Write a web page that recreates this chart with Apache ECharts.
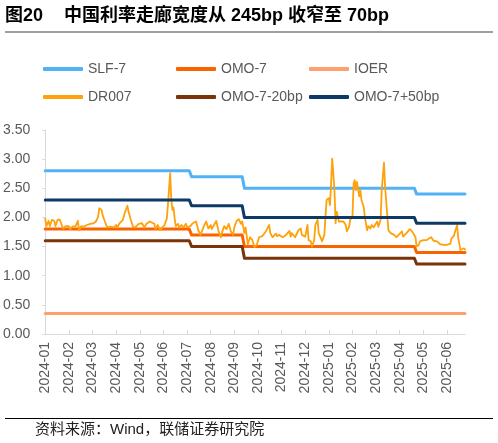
<!DOCTYPE html>
<html>
<head>
<meta charset="utf-8">
<script src="https://cdn.jsdelivr.net/npm/echarts@6/dist/echarts.min.js"></script>
<style>html,body{margin:0;padding:0;background:#fff}#c{width:498px;height:443px}</style>
</head>
<body>
<div id="c"></div>
<script>
// x = trading-day index; a month label every 21 trading days
const monthLabels = ['2024-01','2024-02','2024-03','2024-04','2024-05','2024-06','2024-07','2024-08','2024-09','2024-10','2024-11','2024-12','2025-01','2025-02','2025-03','2025-04','2025-05','2025-06'];
const labelEvery = 21;
const lastDay = 373;

// policy periods (trading-day index)
const periodStart = [0, 130, 177, 330];
const periodEnd   = [128, 175, 328, 373];
const slf7      = [2.80, 2.70, 2.50, 2.40];
const omo7      = [1.80, 1.70, 1.50, 1.40];
const omoMinus20 = [1.60, 1.50, 1.30, 1.20];
const omoPlus50  = [2.30, 2.20, 2.00, 1.90];
const ioer       = [0.35, 0.35, 0.35, 0.35];

// DR007
const drDay = [0,1,3,4,6,8,9,11,13,15,16,18,21,22,24,27,29,30,32,34,37,40,43,45,47,48,50,51,52,53,55,58,61,63,64,66,69,71,73,74,76,78,80,83,86,88,90,93,95,97,
  98,100,102,104,106,108,109,111,112,113,114,115,116,118,119,121,123,125,126,129,131,132,134,136,138,139,141,143,145,147,148,150,152,154,156,157,159,161,163,165,167,168,170,172,174,175,177,178,180,182,184,186,188,190,
  193,194,196,197,199,200,202,203,205,206,208,211,214,217,218,219,222,225,227,228,231,233,234,236,237,239,240,242,243,245,246,248,249,250,252,253,254,255,257,258,259,261,263,265,267,268,270,271,273,274,275,276,277,279,280,281,283,284,
  286,287,289,290,292,293,295,296,298,299,301,302,304,305,307,308,310,311,312,314,317,318,321,324,326,327,329,330,332,333,336,339,341,343,345,348,351,354,357,360,361,363,366,367,369,370,372,373];
const dr007 = [1.98,1.85,1.94,1.85,1.96,1.94,1.85,1.96,1.96,1.85,1.81,1.85,1.85,1.80,1.84,1.85,1.94,1.78,1.85,1.84,1.87,1.89,1.90,1.93,2.01,2.16,2.13,2.04,2.07,1.93,1.83,1.84,1.83,1.87,1.83,1.90,1.96,2.10,2.20,2.10,1.96,1.84,1.83,1.89,1.90,1.83,1.89,1.93,1.91,1.89,
  1.80,1.87,1.78,1.83,1.87,1.98,2.21,2.76,2.30,2.13,2.17,1.98,1.85,1.89,1.83,1.87,1.83,1.89,1.83,1.85,1.90,1.87,1.93,1.78,1.70,1.73,1.85,1.93,1.81,1.87,1.80,1.87,1.94,1.76,1.66,1.74,1.85,1.80,1.89,1.76,1.70,1.83,1.94,1.97,1.89,1.93,1.73,1.83,1.54,1.66,1.61,1.49,1.53,1.66,
  1.68,1.66,1.76,1.76,1.87,1.73,1.66,1.64,1.72,1.68,1.70,1.66,1.70,1.77,1.67,1.73,1.66,1.78,1.81,1.70,1.67,1.87,1.61,1.59,1.50,1.61,1.87,1.96,1.73,1.64,1.59,1.70,2.01,2.30,2.33,2.21,2.58,3.01,2.47,1.90,2.10,1.93,1.93,1.93,1.87,1.76,1.84,1.96,2.01,2.58,2.64,2.47,2.61,2.36,2.47,2.30,2.18,2.01,
  1.78,1.85,1.81,1.87,1.83,1.87,1.93,1.84,1.96,2.47,2.94,2.53,2.01,1.78,1.73,1.76,1.70,1.73,1.66,1.70,1.76,1.67,1.73,1.80,1.76,1.73,1.66,1.50,1.53,1.59,1.61,1.61,1.64,1.66,1.60,1.59,1.54,1.53,1.53,1.55,1.64,1.68,1.87,1.64,1.44,1.45,1.47,1.45];

const yMin = 0, yMax = 3.5, yStep = 0.5;

function stepData(values) {
  const pts = [];
  values.forEach((v, i) => { pts.push([periodStart[i], v]); pts.push([periodEnd[i], v]); });
  return pts;
}
const tickIdx = monthLabels.map((_, i) => i * labelEvery);

const FONT = '"Liberation Sans", Arial, "Noto Sans CJK SC", sans-serif';
const CJK = '"Liberation Sans", "Noto Sans CJK SC", sans-serif';

const seriesDefs = [
  { name: 'SLF-7', data: stepData(slf7), color: '#52B2F6', width: 3 },
  { name: 'OMO-7', data: stepData(omo7), color: '#FA6400', width: 3 },
  { name: 'IOER', data: stepData(ioer), color: '#FF9F6E', width: 3 },
  { name: 'DR007', data: drDay.map((d, i) => [d, dr007[i]]), color: '#FFA10A', width: 1.8 },
  { name: 'OMO-7-20bp', data: stepData(omoMinus20), color: '#7B3408', width: 3 },
  { name: 'OMO-7+50bp', data: stepData(omoPlus50), color: '#0C3966', width: 3 }
];

const legendPos = [[43, 62], [176, 62], [309, 62], [43, 90], [176, 90], [309, 90]];

const chart = echarts.init(document.getElementById('c'), null, { renderer: 'canvas' });
chart.setOption({
  animation: false,
  backgroundColor: '#fff',
  grid: { left: 44, right: 33, top: 130, bottom: 109, containLabel: false },
  legend: seriesDefs.map((s, i) => ({
    left: legendPos[i][0], top: legendPos[i][1], padding: 0,
    data: [s.name], selectedMode: false,
    icon: 'roundRect', itemWidth: 40, itemHeight: 4,
    textStyle: { fontSize: 14, color: '#595959', fontFamily: FONT }
  })),
  xAxis: {
    type: 'value', min: 0, max: lastDay,
    axisLine: { show: true, lineStyle: { color: '#D9D9D9', width: 1 } },
    axisTick: { show: true, inside: true, length: 4, customValues: tickIdx, lineStyle: { color: '#D9D9D9' } },
    axisLabel: {
      customValues: tickIdx, rotate: 90, margin: 8,
      fontSize: 14, color: '#595959', fontFamily: FONT,
      formatter: v => monthLabels[Math.round(v / labelEvery)] || ''
    },
    splitLine: { show: false }
  },
  yAxis: {
    type: 'value', min: yMin, max: yMax, interval: yStep,
    axisLine: { show: true, lineStyle: { color: '#D9D9D9', width: 1 } },
    axisTick: { show: true, length: 3, lineStyle: { color: '#D9D9D9' } },
    axisLabel: { margin: 15, fontSize: 14, color: '#595959', fontFamily: FONT, formatter: v => v.toFixed(2) },
    splitLine: { show: false }
  },
  series: seriesDefs.map(s => ({
    name: s.name, type: 'line', data: s.data, showSymbol: false, symbol: 'none',
    color: s.color,
    lineStyle: { color: s.color, width: s.width, cap: 'round', join: 'round' }
  })),
  graphic: [
    { type: 'text', x: 5, y: 16, style: { text: '图20', font: 'bold 18px ' + CJK, fill: '#000', verticalAlign: 'middle', textVerticalAlign: 'middle' } },
    { type: 'text', x: 64, y: 16, style: { text: '中国利率走廊宽度从 245bp 收窄至 70bp', font: 'bold 18px ' + CJK, fill: '#000', verticalAlign: 'middle', textVerticalAlign: 'middle' } },
    { type: 'line', shape: { x1: 5, y1: 32, x2: 493, y2: 32 }, style: { stroke: '#7F7F7F', lineWidth: 1.5 } },
    { type: 'line', shape: { x1: 5, y1: 418.5, x2: 493, y2: 418.5 }, style: { stroke: '#000', lineWidth: 1 } },
    { type: 'text', x: 35, y: 430, style: { text: '资料来源：Wind，联储证券研究院', font: '15px ' + CJK, fill: '#222', verticalAlign: 'middle', textVerticalAlign: 'middle' } }
  ]
});
</script>
</body>
</html>
